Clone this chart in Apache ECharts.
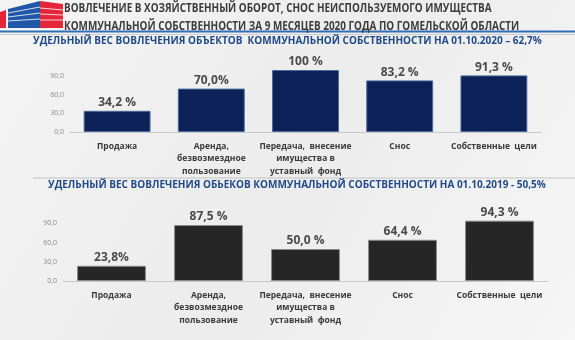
<!DOCTYPE html>
<html><head><meta charset="utf-8">
<script src="https://cdn.jsdelivr.net/npm/echarts@6/dist/echarts.min.js"></script>
<style>html,body{margin:0;padding:0;background:#f0f0f0;}#c{width:575px;height:340px;}</style>
</head><body><div id="c"></div>
<script>
const categories = ['Продажа', 'Аренда,\nбезвозмездное\nпользование', 'Передача,  внесение\nимущества в\nуставный  фонд', 'Снос', 'Собственные  цели'];
const values2020 = [34.2, 70.0, 100, 83.2, 91.3];
const labels2020 = ['34,2 %', '70,0%', '100 %', '83,2 %', '91,3 %'];
const values2019 = [23.8, 87.5, 50.0, 64.4, 94.3];
const labels2019 = ['23,8%', '87,5 %', '50,0 %', '64,4 %', '94,3 %'];
const yTicks = [0, 30, 60, 90];

const FONT = '"Open Sans", "DejaVu Sans", sans-serif';
const chart = echarts.init(document.getElementById('c'), null, {renderer: 'canvas'});

function yAxis(gi) {
  return {
    gridIndex: gi, type: 'value', min: 0, max: 100, interval: 30,
    axisLine: {show: false}, axisTick: {show: false}, splitLine: {show: false},
    axisLabel: {
      showMaxLabel: false, fontSize: 7, color: '#8a8a8a', fontFamily: FONT, margin: 6,
      formatter: v => yTicks.indexOf(v) >= 0 ? v.toFixed(1).replace('.', ',') : ''
    }
  };
}
function xAxis(gi) {
  return {
    gridIndex: gi, type: 'category', data: categories,
    axisLine: {show: true, lineStyle: {color: '#c8c8c8', width: 1}},
    axisTick: {show: false},
    axisLabel: {interval: 0, fontSize: 8.5, fontWeight: 'bold', color: '#3a3a3a', fontFamily: FONT, lineHeight: 12.5, margin: 8}
  };
}
function series(gi, vals, labs, color, border) {
  return {
    type: 'bar', xAxisIndex: gi, yAxisIndex: gi, data: vals, barWidth: '71%',
    itemStyle: {color: color, borderColor: border, borderWidth: 1},
    label: {show: true, position: 'top', distance: 2, fontSize: 12, fontWeight: 'bold', color: '#4a4a4a', fontFamily: FONT,
      formatter: p => labs[p.dataIndex]}
  };
}

const TITLE_STYLE = {fontSize: 11.5, fontWeight: 'bold', fill: '#3c3c3c', fontFamily: FONT};
const graphics = [
  // logo
  {type: 'polygon', shape: {points: [[0, 12], [6, 10], [6, 28], [0, 28]]}, style: {fill: '#e3263a'}},
  {type: 'polygon', shape: {points: [[8, 9], [40, 1], [40, 28], [8, 28]]}, style: {fill: '#2057a8'}},
  {type: 'polygon', shape: {points: [[40, 1], [63, 4], [63, 28], [40, 28]]}, style: {fill: '#e3263a'}},
  {type: 'line', shape: {x1: 8, y1: 13, x2: 40, y2: 7}, style: {stroke: '#ffffff', lineWidth: 0.8}},
  {type: 'line', shape: {x1: 8, y1: 17, x2: 40, y2: 13}, style: {stroke: '#ffffff', lineWidth: 0.8}},
  {type: 'line', shape: {x1: 8, y1: 21, x2: 40, y2: 19}, style: {stroke: '#ffffff', lineWidth: 0.8}},
  {type: 'line', shape: {x1: 40, y1: 8, x2: 63, y2: 10}, style: {stroke: '#ffffff', lineWidth: 0.8}},
  {type: 'line', shape: {x1: 40, y1: 14, x2: 63, y2: 15}, style: {stroke: '#ffffff', lineWidth: 0.8}},
  {type: 'line', shape: {x1: 40, y1: 20, x2: 63, y2: 20}, style: {stroke: '#ffffff', lineWidth: 0.8}},
  {type: 'line', shape: {x1: 0, y1: 31.5, x2: 575, y2: 31.5}, style: {stroke: '#2f6db5', lineWidth: 2}},
  {type: 'line', shape: {x1: 0, y1: 34.5, x2: 575, y2: 34.5}, style: {stroke: '#cccccc', lineWidth: 1}},
  {type: 'line', shape: {x1: 33, y1: 178, x2: 575, y2: 178}, style: {stroke: '#c4c4c4', lineWidth: 1}},
  {type: 'text', x: 64, y: 2.5, scaleX: 0.862, style: Object.assign({x: 0, y: 0, text: 'ВОВЛЕЧЕНИЕ В ХОЗЯЙСТВЕННЫЙ ОБОРОТ, СНОС НЕИСПОЛЬЗУЕМОГО ИМУЩЕСТВА'}, TITLE_STYLE)},
  {type: 'text', x: 64, y: 20.5, scaleX: 0.862, style: Object.assign({x: 0, y: 0, text: 'КОММУНАЛЬНОЙ СОБСТВЕННОСТИ ЗА 9 МЕСЯЦЕВ 2020 ГОДА ПО ГОМЕЛЬСКОЙ ОБЛАСТИ'}, TITLE_STYLE)},
  {type: 'text', left: 33, top: 36, style: {text: 'УДЕЛЬНЫЙ ВЕС ВОВЛЕЧЕНИЯ ОБЪЕКТОВ  КОММУНАЛЬНОЙ СОБСТВЕННОСТИ НА 01.10.2020 – 62,7%', fontSize: 10, fontWeight: 'bold', fill: '#1f4a8a', fontFamily: FONT}},
  {type: 'text', left: 48, top: 180.5, style: {text: 'УДЕЛЬНЫЙ ВЕС ВОВЛЕЧЕНИЯ ОБЬЕКОВ КОММУНАЛЬНОЙ СОБСТВЕННОСТИ НА 01.10.2019 - 50,5%', fontSize: 10, fontWeight: 'bold', fill: '#1f4a8a', fontFamily: FONT}}
];

chart.setOption({
  backgroundColor: {type: 'linear', x: 0, y: 0, x2: 1, y2: 1, colorStops: [{offset: 0, color: '#f4f4f4'}, {offset: 0.5, color: '#ececec'}, {offset: 1, color: '#f6f6f6'}]},
  animation: false,
  grid: [
    {left: 70, width: 471, top: 70, height: 62},
    {left: 63, width: 485, top: 217, height: 64}
  ],
  xAxis: [xAxis(0), xAxis(1)],
  yAxis: [yAxis(0), yAxis(1)],
  series: [
    series(0, values2020, labels2020, '#0b2158', '#4a6a9a'),
    series(1, values2019, labels2019, '#262626', '#8a8a8a')
  ],
  graphic: graphics
});
</script></body></html>
